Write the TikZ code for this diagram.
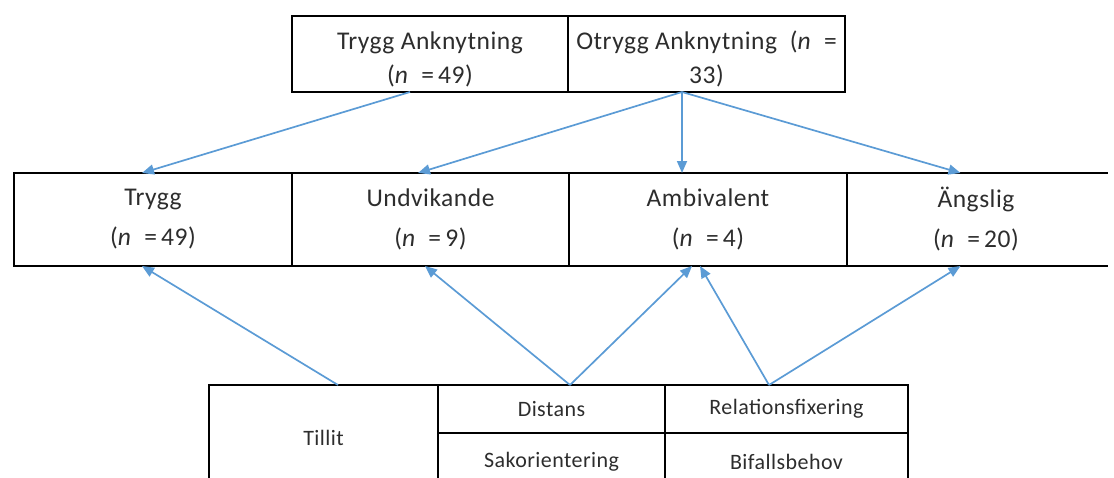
\documentclass[tikz,border=0pt]{standalone}
\usepackage{fontspec}
\setmainfont{Carlito}[LetterSpace=2]
\usetikzlibrary{arrows.meta,calc}
\definecolor{arrowblue}{RGB}{91,155,213}
\definecolor{textgray}{RGB}{45,45,45}
\begin{document}
\begin{tikzpicture}[x=1pt,y=-1pt,
  cell/.style={draw=black,line width=1.8pt,inner sep=0pt,outer sep=0pt,align=center,text=textgray},
  txt/.style={inner sep=0pt,align=center,text=textgray},
  topfont/.style={font=\fontsize{25.5}{34}\selectfont},
  midfont/.style={font=\fontsize{25.5}{40}\selectfont},
  lowfont/.style={font=\fontsize{22}{26}\selectfont},
  arr/.style={draw=arrowblue,line width=1.7pt,-{Triangle[length=12pt,width=10pt]}}]
\useasboundingbox (0,0) rectangle (1114,477);
% top row
\node[cell,minimum width=276pt,minimum height=76pt] (tA) at (430,54) {};
\node[cell,minimum width=277pt,minimum height=76pt] (tB) at (706.5,54) {};
\node[txt,topfont] (tAt) at ($(tA)+(0,5)$) {Trygg Anknytning\\(\textit{n}\enspace=\,49)};
\node[txt,topfont] (tBt) at ($(tB)+(0,5)$) {Otrygg Anknytning\enspace(\textit{n}\enspace=\\33)};
% middle row
\node[cell,midfont,minimum width=278pt,minimum height=93pt] (m1) at (153,219.5)
  {Trygg\\(\textit{n}\enspace=\,49)};
\node[cell,midfont,minimum width=277pt,minimum height=93pt] (m2) at (430.5,219.5)
  {Undvikande\\(\textit{n}\enspace=\,9)};
\node[cell,midfont,minimum width=278pt,minimum height=93pt] (m3) at (708,219.5)
  {Ambivalent\\(\textit{n}\enspace=\,4)};
\node[cell,midfont,draw=none,minimum width=263pt,minimum height=93pt] (m4) at (976,219.5)
  {Ängslig\\(\textit{n}\enspace=\,20)};
\draw[line width=1.8pt] (m4.north west) -- (m4.north east);
\draw[line width=1.8pt] (m4.south west) -- (m4.south east);
% bottom table
\node[cell,lowfont,minimum width=229pt,minimum height=105pt] (b1) at (323.5,437.5) {Tillit};
\node[cell,lowfont,minimum width=227pt,minimum height=48pt] (b2) at (551.5,409) {\raisebox{-3pt}{Distans}};
\node[cell,lowfont,minimum width=227pt,minimum height=57pt] (b4) at (551.5,461.5) {Sakorientering};
\node[cell,lowfont,minimum width=243pt,minimum height=48pt] (b3) at (786.5,409) {\raisebox{-3pt}{Relationsfixering}};
\node[cell,lowfont,minimum width=243pt,minimum height=57pt] (b5) at (786.5,461.5) {Bifallsbehov};
% connector end points
\coordinate (a1s) at ($(tA.south west)+(118,0)$);
\coordinate (a2s) at ($(tB.south west)+(114,0)$);
\coordinate (a1e) at ($(m1.north west)+(128,0)$);
\coordinate (a2e) at ($(m2.north west)+(126,0)$);
\coordinate (a3e) at ($(m3.north west)+(113,0)$);
\coordinate (a4e) at ($(m4.north west)+(116,0)$);
\coordinate (b1s) at ($(b1.north west)+(129,0)$);
\coordinate (b2s) at ($(b2.north west)+(132,0)$);
\coordinate (b3s) at ($(b3.north west)+(104,0)$);
\coordinate (b1e) at ($(m1.south west)+(128,0)$);
\coordinate (b2e) at ($(m2.south west)+(133,0)$);
\coordinate (b3e) at ($(m3.south west)+(123,0)$);
\coordinate (b4e) at ($(m3.south west)+(131,0)$);
\coordinate (b5e) at ($(m4.south west)+(116,0)$);
% connectors
\draw[arr] (a1s) -- (a1e);
\draw[arr] (a2s) -- (a2e);
\draw[arr] (a2s) -- (a3e);
\draw[arr] (a2s) -- (a4e);
\draw[arr] (b1s) -- (b1e);
\draw[arr] (b2s) -- (b2e);
\draw[arr] (b2s) -- (b3e);
\draw[arr] (b3s) -- (b4e);
\draw[arr] (b3s) -- (b5e);
\end{tikzpicture}
\end{document}
